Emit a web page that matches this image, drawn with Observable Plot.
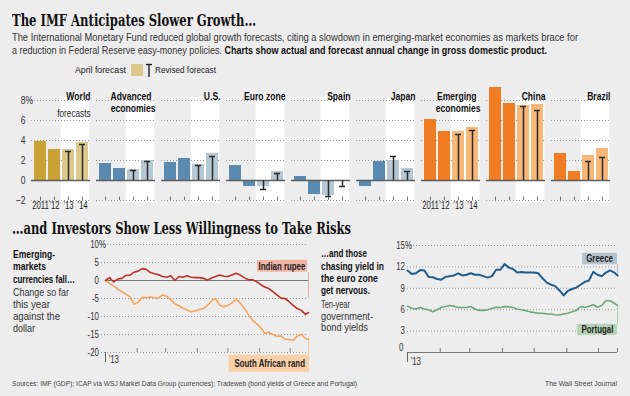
<!DOCTYPE html>
<html><head><meta charset="utf-8">
<script src="https://cdn.jsdelivr.net/npm/d3@7"></script>
<script src="https://cdn.jsdelivr.net/npm/@observablehq/plot@0.6"></script>
<style>
html,body{margin:0;padding:0;}
body{width:630px;height:396px;background:#ededed;position:relative;overflow:hidden;color:#222;
 font-family:"Liberation Sans",Arial,sans-serif;}
.t{position:absolute;white-space:nowrap;transform-origin:0 50%;display:inline-block;line-height:1;}
.chart{position:absolute;}
</style></head><body>
<script>
// ---------- DATA ----------
const regions = ["World","Advanced economies","U.S.","Euro zone","Spain","Japan","Emerging economies","China","Brazil"];
const regionGroup = ["World","Advanced","Advanced","Advanced","Advanced","Advanced","Emerging","Emerging","Emerging"];
const panelTitles = ["World","Advanced\neconomies","U.S.","Euro zone","Spain","Japan","Emerging\neconomies","China","Brazil"];
const years = ["2011","2012","2013","2014"];
const yearLabels = ["2011","\u201912","\u201913","\u201914"];
const actual2011 = [3.9, 1.7, 1.8, 1.5, 0.4, -0.6, 6.1, 9.3, 2.7];
const actual2012 = [3.1, 1.2, 2.2, -0.6, -1.4, 1.9, 4.9, 7.7, 0.9];
const april2013 = [3.1, 1.1, 1.6, -0.6, -1.5, 2.0, 4.9, 7.5, 2.5];
const april2014 = [3.8, 2.0, 2.7, 0.9, 0.0, 1.2, 5.3, 7.6, 3.2];
const revised2013 = [2.9, 1.0, 1.5, -0.9, -1.6, 2.4, 4.6, 7.4, 1.9];
const revised2014 = [3.6, 1.9, 2.4, 0.7, -0.6, 0.9, 5.0, 7.0, 2.3];
const gdpTicks = [8, 6, 4, 2, 0, -2];

const dates = ["2013-01-01","2013-01-05","2013-01-09","2013-01-13","2013-01-17","2013-01-21","2013-01-25","2013-01-29",
"2013-02-02","2013-02-06","2013-02-10","2013-02-14","2013-02-18","2013-02-22","2013-02-26",
"2013-03-02","2013-03-06","2013-03-10","2013-03-14","2013-03-18","2013-03-22","2013-03-26","2013-03-30",
"2013-04-03","2013-04-07","2013-04-11","2013-04-15","2013-04-19","2013-04-23","2013-04-27",
"2013-05-01","2013-05-05","2013-05-09","2013-05-13","2013-05-17","2013-05-21","2013-05-25","2013-05-29",
"2013-06-02","2013-06-06","2013-06-10","2013-06-14","2013-06-18","2013-06-22","2013-06-26","2013-06-30",
"2013-07-04","2013-07-08","2013-07-12","2013-07-16","2013-07-19"];
const rupee = [0,0.8,-0.4,0.4,0.6,1.4,1.5,2.3,2.6,3.3,3.1,2.2,1.9,1.6,1.1,0.9,1.3,0.0,1.1,0.9,1.3,0.9,0.8,0.8,0.6,0.1,0.7,1.1,1.5,1.2,1.1,1.5,2.0,1.5,0.8,0.2,0.2,-0.3,-1.1,-1.8,-2.2,-3.1,-4.0,-4.9,-5.0,-5.9,-6.9,-7.8,-8.3,-9.4,-8.9];
const rand = [0,-0.9,-1.5,-2.4,-3.1,-3.8,-4.5,-6.6,-6.0,-4.7,-4.8,-4.6,-4.8,-4.9,-4.0,-4.4,-5.3,-6.5,-7.0,-7.7,-8.2,-8.7,-8.4,-8.1,-7.8,-6.9,-5.7,-5.0,-6.9,-7.3,-6.9,-6.2,-5.2,-6.2,-7.7,-9.4,-11.0,-12.0,-13.0,-14.7,-14.4,-15.0,-15.5,-15.4,-16.3,-16.4,-16.6,-15.4,-15.0,-16.1,-16.3];
const greece = [11.5,11.0,11.1,11.55,11.5,10.6,10.55,10.3,10.2,10.6,10.7,10.8,11.1,10.8,10.9,11.1,10.9,10.9,10.7,10.5,10.7,11.6,11.6,12.4,11.9,11.7,11.2,11.3,11.2,11.2,11.2,11.1,10.4,9.8,9.5,9.3,8.7,8.0,8.65,8.9,9.1,9.5,9.9,10.1,11.3,10.9,10.7,11.2,11.5,11.2,10.8];
const portugal = [6.5,6.2,6.1,6.3,6.1,6.0,5.7,6.0,6.3,6.45,6.6,6.5,6.3,6.3,6.3,6.45,6.1,5.9,5.9,6.0,6.2,6.35,6.3,6.45,6.4,6.3,6.1,6.0,5.85,5.7,5.6,5.5,5.5,5.4,5.4,5.3,5.25,5.4,5.5,5.7,5.9,6.45,6.3,6.5,6.7,6.35,6.6,7.25,7.25,6.9,6.6];
const currencyTicks = [10, 5, 0, -5, -10, -15, -20];
const yieldTicks = [15, 12, 9, 6, 3, 0];
const monthTicks = ["2013-02-01","2013-03-01","2013-04-01","2013-05-01","2013-06-01","2013-07-01"];
const dateDomain = ["2013-01-01","2013-07-19"];

// ---------- STYLE ----------
const FONT = '"Liberation Sans",Arial,sans-serif';
const SERIF = '"DejaVu Serif Condensed","DejaVu Serif","Liberation Serif",serif';
const palette = {
  World: {actual: "#c9a134", april: "#dcc88c"},
  Advanced: {actual: "#5a8ab0", april: "#b7c8d5"},
  Emerging: {actual: "#f07c24", april: "#f8b878"}
};
const grid = {stroke: "#9a9a9a", strokeDasharray: "1,2", strokeWidth: 1};

function addText(html, x, yc, size, opts = {}) {
  const el = document.createElement("div");
  el.className = "t";
  el.innerHTML = html;
  el.style.left = x + "px";
  el.style.top = (yc - size / 2 - 0.5) + "px";
  el.style.fontSize = size + "px";
  el.style.fontWeight = opts.weight || "normal";
  el.style.color = opts.color || "#333";
  if (opts.family) el.style.fontFamily = opts.family;
  document.body.appendChild(el);
  if (opts.w) {
    const r = el.getBoundingClientRect().width;
    if (r > 0) el.style.transform = `scaleX(${opts.w / r})`;
  }
  return el;
}
// narrow the SVG texts horizontally around their own anchor (condensed look)
function squeeze(svg, s) {
  svg.querySelectorAll("text").forEach(t => {
    const tr = t.getAttribute("transform");
    if (tr) t.setAttribute("transform", tr + ` scale(${s},1)`);
    else {
      const x = +t.getAttribute("x") || 0, y = +t.getAttribute("y") || 0;
      t.removeAttribute("x"); t.removeAttribute("y");
      t.setAttribute("transform", `translate(${x},${y}) scale(${s},1)`);
    }
  });
}
function place(svg, left, top) {
  svg.classList.add("chart");
  svg.style.left = left + "px";
  svg.style.top = top + "px";
  document.body.appendChild(svg);
}

// ---------- TEXTS ----------
addText("The IMF Anticipates Slower Growth\u2026", 12, 21, 17, {weight: "bold", color: "#111", family: SERIF, w: 244});
addText("The International Monetary Fund reduced global growth forecasts, citing a slowdown in emerging-market economies as markets brace for", 12, 38, 10.5, {w: 566});
addText("a reduction in Federal Reserve easy-money policies. <b style=\"color:#111\">Charts show actual and forecast annual change in gross domestic product.</b>", 12, 50.5, 10.5, {w: 535});
addText("April forecast", 75, 70, 9.5, {color: "#222", w: 51});
addText("Revised forecast", 155, 70, 9.5, {color: "#222", w: 61});
const sw = document.createElement("div");
Object.assign(sw.style, {position: "absolute", left: "131px", top: "64px", width: "12px", height: "12px", background: "#dcc88c"});
document.body.appendChild(sw);
const tsym = document.createElementNS("http://www.w3.org/2000/svg", "svg");
tsym.setAttribute("width", "10"); tsym.setAttribute("height", "16");
Object.assign(tsym.style, {position: "absolute", left: "144px", top: "62px"});
tsym.innerHTML = '<line x1="2" x2="8" y1="2.5" y2="2.5" stroke="#222" stroke-width="1.4"/><line x1="5" x2="5" y1="2" y2="15" stroke="#222" stroke-width="1.4"/>';
document.body.appendChild(tsym);

addText("\u2026and Investors Show Less Willingness to Take Risks", 12, 229, 17, {weight: "bold", color: "#111", family: SERIF, w: 339});

const leftBold = [["Emerging-", 42], ["markets", 33], ["currencies fall\u2026", 62]];
const leftReg = [["Change so far", 56], ["this year", 37], ["against the", 47], ["dollar", 22]];
[254.3, 267, 280].forEach((y, i) => addText(leftBold[i][0], 12.5, y, 10.5, {weight: "bold", color: "#111", w: leftBold[i][1]}));
[292.3, 304.7, 316.7, 328.3].forEach((y, i) => addText(leftReg[i][0], 12.5, y, 10.5, {color: "#333", w: leftReg[i][1]}));
const rightBold = [["\u2026and those", 46], ["chasing yield in", 63], ["the euro zone", 57], ["get nervous.", 49]];
const rightReg = [["Ten-year", 29], ["government-", 52], ["bond yields", 47]];
[254, 267, 279, 290.7].forEach((y, i) => addText(rightBold[i][0], 321, y, 10.5, {weight: "bold", color: "#111", w: rightBold[i][1]}));
[305, 316.5, 328].forEach((y, i) => addText(rightReg[i][0], 321, y, 10.5, {color: "#333", w: rightReg[i][1]}));

addText("Sources: IMF (GDP); ICAP via WSJ Market Data Group (currencies); Tradeweb (bond yields of Greece and Portugal)", 12, 384, 8, {color: "#444", w: 345});
addText("The Wall Street Journal", 545, 384, 8, {color: "#444", w: 72});

// ---------- BAR CHART ----------
const barRows = [];
regions.forEach((r, i) => {
  [actual2011, actual2012, april2013, april2014].forEach((arr, j) => {
    barRows.push({region: r, group: regionGroup[i], year: years[j], label: yearLabels[j], value: arr[i], kind: j < 2 ? "actual" : "april"});
  });
});
const revRows = [];
regions.forEach((r, i) => {
  revRows.push({region: r, year: years[2], value: revised2013[i]});
  revRows.push({region: r, year: years[3], value: revised2014[i]});
});
const titleRows = regions.map((r, i) => ({region: r, lines: panelTitles[i].split("\n")}));
const singleTitles = titleRows.filter(d => d.lines.length === 1);
const doubleTitles = titleRows.filter(d => d.lines.length === 2);
const labelled = barRows.filter(d => d.region === "World" || d.region === "Emerging economies");

const bars = Plot.plot({
  width: 630, height: 140,
  marginLeft: 27, marginRight: 15, marginTop: 20, marginBottom: 20,
  style: {background: "transparent", fontFamily: FONT, fontSize: "10px", color: "#222"},
  fx: {domain: regions, paddingInner: 0.09, paddingOuter: 0, axis: null, label: null},
  x: {type: "band", domain: years, paddingInner: 0.15, paddingOuter: 0.1, axis: null},
  y: {domain: [-2, 8], axis: null},
  marks: [
    Plot.cell(revRows, {fx: "region", x: "year", fill: "#ffffff", insetLeft: -1.3, insetRight: -1.3, insetTop: -3, insetBottom: -2.5}),
    Plot.ruleY(gdpTicks.filter(d => d !== 0), grid),
    Plot.ruleX(barRows, {fx: "region", x: "year", y1: -2, y2: -1.65, stroke: "#777"}),
    Plot.barY(barRows, {fx: "region", x: "year", y: "value", fill: d => palette[d.group][d.kind]}),
    Plot.ruleY([0], {stroke: "#5e5e5e", strokeWidth: 1.5}),
    Plot.ruleX(revRows, {fx: "region", x: "year", y1: 0, y2: "value", stroke: "#2b2b2b", strokeWidth: 1.5}),
    Plot.tickY(revRows, {fx: "region", x: "year", y: "value", stroke: "#2b2b2b", strokeWidth: 1.5, insetLeft: 3, insetRight: 3}),
    Plot.text(singleTitles, {fx: "region", text: d => d.lines[0], frameAnchor: "top-right", textAnchor: "end", dy: -8, fontWeight: "bold", fontSize: 11, fill: "#111"}),
    Plot.text(doubleTitles, {fx: "region", text: d => d.lines[0], frameAnchor: "top-right", textAnchor: "end", dx: -4, dy: -8.5, fontWeight: "bold", fontSize: 11, fill: "#111"}),
    Plot.text(doubleTitles, {fx: "region", text: d => d.lines[1], frameAnchor: "top-right", textAnchor: "end", dy: 4, fontWeight: "bold", fontSize: 11, fill: "#111"}),
    Plot.text(["forecasts"], {fx: () => "World", text: d => d, frameAnchor: "top-right", textAnchor: "end", dy: 9.5, fontSize: 10.5, fill: "#222"}),
    Plot.text(labelled, {fx: "region", x: "year", text: "label", frameAnchor: "bottom", dy: 8.5, fontSize: 10, fill: "#222"}),
    Plot.text(gdpTicks, {fx: () => "World", y: d => d, text: d => d < 0 ? "\u2212" + (-d) : String(d), frameAnchor: "left", textAnchor: "end", dx: -6, fontSize: 11, fill: "#333"}),
    Plot.text([8], {fx: () => "World", y: d => d, text: () => "%", frameAnchor: "left", textAnchor: "start", dx: -6, fontSize: 11, fill: "#333"})
  ]
});
squeeze(bars, 0.78);
place(bars, 0, 80);

// ---------- CURRENCIES ----------
const xDom = dateDomain.map(d => new Date(d));
const cur = dates.map((d, i) => ({date: new Date(d), rupee: rupee[i], rand: rand[i]}));
const lastCur = cur[cur.length - 1];
const left = Plot.plot({
  width: 320, height: 140,
  marginLeft: 105, marginRight: 12, marginTop: 9, marginBottom: 23,
  style: {background: "transparent", fontFamily: FONT, fontSize: "10px", color: "#222"},
  x: {type: "utc", domain: xDom, axis: null},
  y: {domain: [-20, 10], axis: null},
  marks: [
    Plot.ruleY(currencyTicks.filter(d => d !== 0), {...grid, insetLeft: -4}),
    Plot.ruleX(monthTicks, {x: d => new Date(d), y1: -20, y2: -18.9, stroke: "#888"}),
    Plot.ruleX([xDom[0]], {x: d => d, y1: -20, y2: -22.8, stroke: "#666"}),
    Plot.text([xDom[0]], {x: d => d, y: -22, text: () => "\u201913", textAnchor: "start", dx: 3, fontSize: 10.5, fill: "#333"}),
    Plot.ruleY([0], {stroke: "#777", strokeWidth: 1}),
    Plot.ruleX([lastCur], {x: "date", y1: 2.3, y2: -4.8, stroke: "#ecb0a2"}),
    Plot.ruleX([lastCur], {x: "date", y1: -20.75, y2: -16.5, stroke: "#f6c89c"}),
    Plot.rect([{x1: "2013-05-30", x2: "2013-07-18", y1: 2.3, y2: 5.6}], {x1: d => new Date(d.x1), x2: d => new Date(d.x2), y1: "y1", y2: "y2", fill: "#f0b3a4"}),
    Plot.rect([{x1: "2013-05-02", x2: "2013-07-20", y1: -25.5, y2: -20.75}], {x1: d => new Date(d.x1), x2: d => new Date(d.x2), y1: "y1", y2: "y2", fill: "#fad0a8"}),
    Plot.text([{x: "2013-06-23", y: 3.95, t: "Indian rupee"}], {x: d => new Date(d.x), y: "y", text: "t", fontWeight: "bold", fontSize: 10.5, fill: "#222"}),
    Plot.text([{x: "2013-06-11", y: -23.1, t: "South African rand"}], {x: d => new Date(d.x), y: "y", text: "t", fontWeight: "bold", fontSize: 10.5, fill: "#222"}),
    Plot.line(cur, {x: "date", y: "rand", stroke: "#f5a65d", strokeWidth: 1.6}),
    Plot.line(cur, {x: "date", y: "rupee", stroke: "#bf2f2a", strokeWidth: 1.6}),
    Plot.text(currencyTicks, {y: d => d, text: d => d < 0 ? "-" + (-d) : String(d), frameAnchor: "left", textAnchor: "end", dx: -6.5, fontSize: 10.5, fill: "#333"}),
    Plot.text([10], {y: d => d, text: () => "%", frameAnchor: "left", textAnchor: "start", dx: -6.5, fontSize: 10.5, fill: "#333"})
  ]
});
squeeze(left, 0.75);
place(left, 0, 235);

// ---------- BOND YIELDS ----------
const yld = dates.map((d, i) => ({date: new Date(d), greece: greece[i], portugal: portugal[i]}));
const lastY = yld[yld.length - 1];
const right = Plot.plot({
  width: 250, height: 140,
  marginLeft: 27, marginRight: 13, marginTop: 10, marginBottom: 23,
  style: {background: "transparent", fontFamily: FONT, fontSize: "10px", color: "#222"},
  x: {type: "utc", domain: xDom, axis: null},
  y: {domain: [0, 15], axis: null},
  marks: [
    Plot.ruleY(yieldTicks.filter(d => d !== 0), grid),
    Plot.ruleY([0], {stroke: "#777", strokeWidth: 1}),
    Plot.ruleX(monthTicks.concat([dateDomain[1]]), {x: d => new Date(d), y1: 0, y2: 0.55, stroke: "#777"}),
    Plot.ruleX([xDom[0]], {x: d => d, y1: 0, y2: -1.4, stroke: "#666"}),
    Plot.text([xDom[0]], {x: d => d, y: -1.3, text: () => "\u201913", textAnchor: "start", dx: 3, fontSize: 10.5, fill: "#333"}),
    Plot.ruleX([lastY], {x: "date", y1: 12.3, y2: 11.0, stroke: "#aab8c5"}),
    Plot.ruleX([lastY], {x: "date", y1: 3.95, y2: 6.4, stroke: "#a9cca9"}),
    Plot.rect([{x1: "2013-06-16", x2: "2013-07-19", y1: 12.3, y2: 13.9}], {x1: d => new Date(d.x1), x2: d => new Date(d.x2), y1: "y1", y2: "y2", fill: "#b5c3cf"}),
    Plot.rect([{x1: "2013-06-11", x2: "2013-07-19", y1: 2.4, y2: 3.95}], {x1: d => new Date(d.x1), x2: d => new Date(d.x2), y1: "y1", y2: "y2", fill: "#b5d4b5"}),
    Plot.text([{x: "2013-07-02", y: 13.1, t: "Greece"}], {x: d => new Date(d.x), y: "y", text: "t", fontWeight: "bold", fontSize: 10.5, fill: "#222"}),
    Plot.text([{x: "2013-06-30", y: 3.17, t: "Portugal"}], {x: d => new Date(d.x), y: "y", text: "t", fontWeight: "bold", fontSize: 10.5, fill: "#222"}),
    Plot.line(yld, {x: "date", y: "portugal", stroke: "#6ba77b", strokeWidth: 1.6}),
    Plot.line(yld, {x: "date", y: "greece", stroke: "#1f5d8b", strokeWidth: 2}),
    Plot.text(yieldTicks.filter(d => d !== 0), {y: d => d, text: d => String(d), frameAnchor: "left", textAnchor: "end", dx: -2.5, fontSize: 10.5, fill: "#333"}),
    Plot.text([0], {y: d => d, text: () => "0", frameAnchor: "left", textAnchor: "end", dx: -4, dy: -5, fontSize: 10.5, fill: "#333"}),
    Plot.text([15], {y: d => d, text: () => "%", frameAnchor: "left", textAnchor: "start", dx: -2.5, fontSize: 10.5, fill: "#333"})
  ]
});
squeeze(right, 0.75);
place(right, 380, 235);
</script>
</body></html>
